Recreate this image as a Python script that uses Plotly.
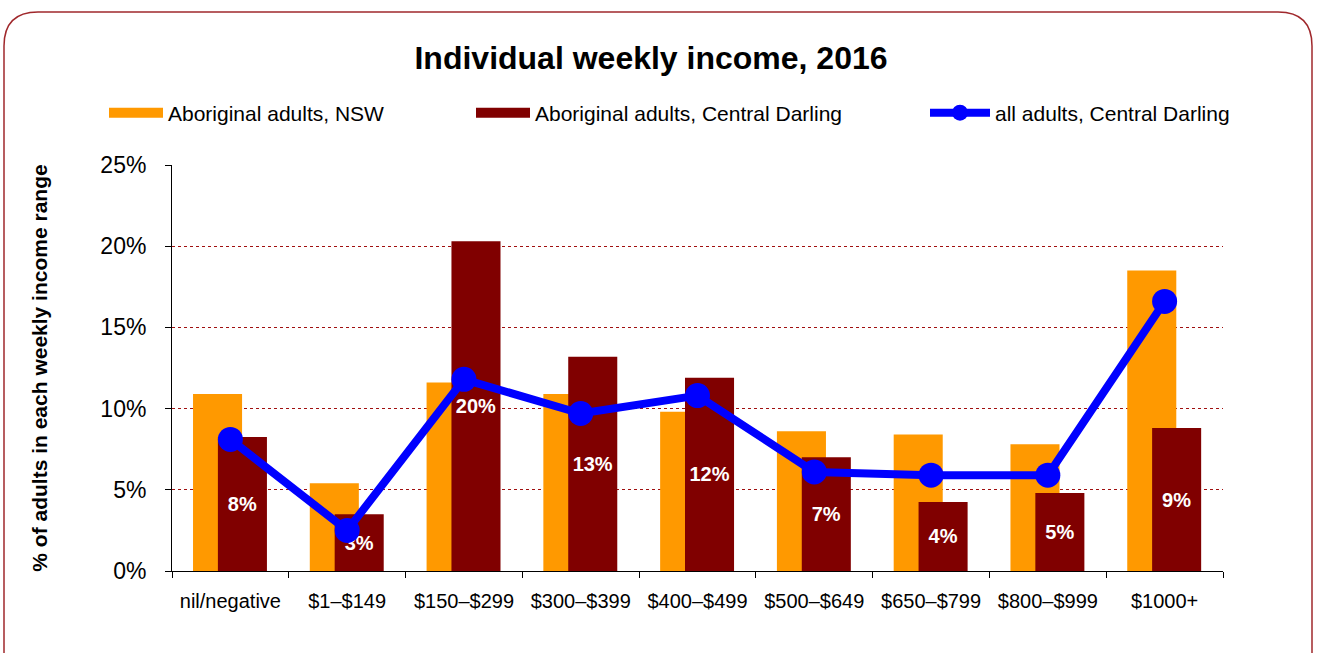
import plotly.graph_objects as go

categories = ["nil/negative", "$1–$149", "$150–$299", "$300–$399", "$400–$499",
              "$500–$649", "$650–$799", "$800–$999", "$1000+"]
nsw_aboriginal = [10.9, 5.4, 11.6, 10.9, 9.8, 8.6, 8.4, 7.8, 18.5]
cd_aboriginal = [8.25, 3.5, 20.3, 13.2, 11.9, 7.0, 4.25, 4.8, 8.8]
cd_all = [8.1, 2.5, 11.8, 9.7, 10.8, 6.1, 5.9, 5.9, 16.6]
cd_aboriginal_labels = ["8%", "3%", "20%", "13%", "12%", "7%", "4%", "5%", "9%"]

W, H = 1318, 653
L, R, T, B = 172, 1223, 165, 571  # plot area in pixels

FONT = "Liberation Sans, Arial, sans-serif"
ORANGE = "#FF9900"
DARKRED = "#800000"
BLUE = "#0000FF"

fig = go.Figure()
fig.add_trace(go.Bar(
    x=categories, y=nsw_aboriginal, name="Aboriginal adults, NSW",
    marker=dict(color=ORANGE, line=dict(width=0)),
    width=0.42, offset=-0.32, showlegend=False,
))
fig.add_trace(go.Bar(
    x=categories, y=cd_aboriginal, name="Aboriginal adults, Central Darling",
    marker=dict(color=DARKRED, line=dict(width=0)),
    width=0.42, offset=-0.107, showlegend=False,
    text=cd_aboriginal_labels, textposition="inside", insidetextanchor="middle",
    textangle=0, textfont=dict(color="white", size=20, family=FONT, weight="bold"),
    constraintext="none",
))
fig.add_trace(go.Scatter(
    x=categories, y=cd_all, name="all adults, Central Darling",
    mode="lines+markers", line=dict(color=BLUE, width=8),
    marker=dict(color=BLUE, size=25), legend="legend3",
))
# legend keys for the bar series (wide colour swatches)
fig.add_trace(go.Scatter(
    x=[None], y=[None], name="Aboriginal adults, NSW", mode="lines",
    line=dict(color=ORANGE, width=10), legend="legend", showlegend=True,
))
fig.add_trace(go.Scatter(
    x=[None], y=[None], name="Aboriginal adults, Central Darling", mode="lines",
    line=dict(color=DARKRED, width=10), legend="legend2", showlegend=True,
))


def px(x):
    return (x - L) / (R - L)


def py(y):
    return (B - y) / (B - T)


# rounded border
x0, x1, y0, y1, r = 4, 1312, 12, 700, 34
path = (f"M{px(x0)},{py(y1)} L{px(x0)},{py(y0 + r)} "
        f"Q{px(x0)},{py(y0)} {px(x0 + r)},{py(y0)} "
        f"L{px(x1 - r)},{py(y0)} Q{px(x1)},{py(y0)} {px(x1)},{py(y0 + r)} "
        f"L{px(x1)},{py(y1)}")

legend_common = dict(orientation="h", yanchor="middle", xanchor="left",
                     font=dict(size=21, family=FONT), bgcolor="rgba(0,0,0,0)",
                     borderwidth=0, visible=True)

fig.update_layout(
    width=W, height=H,
    margin=dict(l=L, r=W - R, t=T, b=H - B),
    paper_bgcolor="white", plot_bgcolor="white",
    barmode="overlay", showlegend=True,
    font=dict(family=FONT, color="black"),
    title=dict(text="<b>Individual weekly income, 2016</b>", x=px(651), xref="paper",
               xanchor="center", y=1 - 58 / H, yanchor="middle",
               font=dict(size=32, family=FONT)),
    shapes=[dict(type="path", xref="paper", yref="paper", path=path,
                 line=dict(color="#A0282C", width=1.5), layer="below")],
    legend=dict(x=px(104), y=py(113), itemwidth=54, **legend_common),
    legend2=dict(x=px(471), y=py(113), itemwidth=54, **legend_common),
    legend3=dict(x=px(925), y=py(113), itemwidth=60, **legend_common),
    xaxis=dict(
        type="category", showline=True, linecolor="black", linewidth=1,
        ticks="outside", tickson="boundaries", ticklen=6, tickcolor="black",
        tickfont=dict(size=20, family=FONT), showgrid=False, range=[-0.5, 8.5],
        ticklabelstandoff=12,
    ),
    yaxis=dict(
        range=[0, 25], dtick=5, ticksuffix="%", showline=True, linecolor="black",
        linewidth=1, ticks="outside", ticklen=6, tickcolor="black",
        tickfont=dict(size=23, family=FONT), ticklabelstandoff=14,
        showgrid=True, gridcolor="#A01010", griddash="dot", gridwidth=1,
        zeroline=False,
        title=dict(text="<b>% of adults in each weekly income range</b>",
                   font=dict(size=21, family=FONT), standoff=47),
    ),
)

fig.write_html("out.html", config={"displayModeBar": False},
               post_script="document.body.style.margin='0px';")
